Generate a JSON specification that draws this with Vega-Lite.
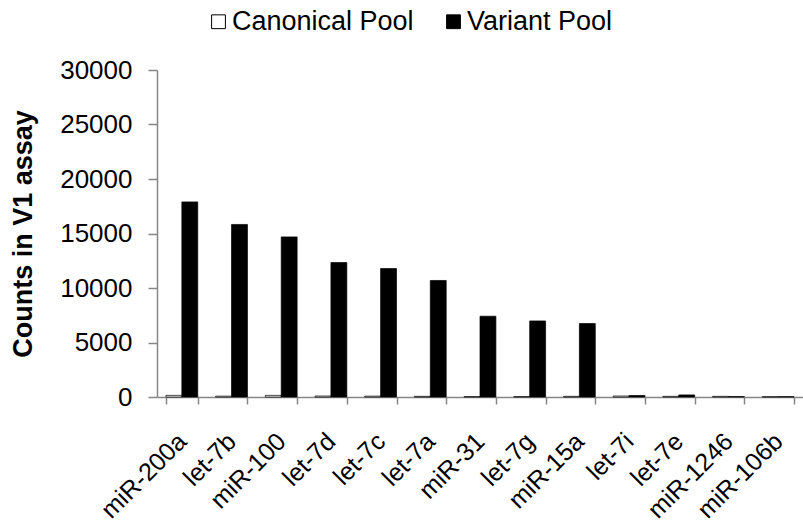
{
  "$schema": "https://vega.github.io/schema/vega-lite/v6.json",
  "autosize": "none",
  "width": 646,
  "height": 327,
  "padding": {"left": 157, "top": 70, "right": 0, "bottom": 129},
  "background": "white",
  "config": {
    "view": {"stroke": null},
    "font": "Liberation Sans"
  },
  "data": {
    "values": [
      {"miRNA": "miR-200a", "pool": "Canonical Pool", "count": 150},
      {"miRNA": "miR-200a", "pool": "Variant Pool", "count": 17900},
      {"miRNA": "let-7b", "pool": "Canonical Pool", "count": 80},
      {"miRNA": "let-7b", "pool": "Variant Pool", "count": 15830},
      {"miRNA": "miR-100", "pool": "Canonical Pool", "count": 150},
      {"miRNA": "miR-100", "pool": "Variant Pool", "count": 14690},
      {"miRNA": "let-7d", "pool": "Canonical Pool", "count": 90},
      {"miRNA": "let-7d", "pool": "Variant Pool", "count": 12340},
      {"miRNA": "let-7c", "pool": "Canonical Pool", "count": 80},
      {"miRNA": "let-7c", "pool": "Variant Pool", "count": 11790},
      {"miRNA": "let-7a", "pool": "Canonical Pool", "count": 60},
      {"miRNA": "let-7a", "pool": "Variant Pool", "count": 10690},
      {"miRNA": "miR-31", "pool": "Canonical Pool", "count": 40},
      {"miRNA": "miR-31", "pool": "Variant Pool", "count": 7410},
      {"miRNA": "let-7g", "pool": "Canonical Pool", "count": 40},
      {"miRNA": "let-7g", "pool": "Variant Pool", "count": 6980},
      {"miRNA": "miR-15a", "pool": "Canonical Pool", "count": 60},
      {"miRNA": "miR-15a", "pool": "Variant Pool", "count": 6740},
      {"miRNA": "let-7i", "pool": "Canonical Pool", "count": 90},
      {"miRNA": "let-7i", "pool": "Variant Pool", "count": 140},
      {"miRNA": "let-7e", "pool": "Canonical Pool", "count": 60},
      {"miRNA": "let-7e", "pool": "Variant Pool", "count": 190},
      {"miRNA": "miR-1246", "pool": "Canonical Pool", "count": 60},
      {"miRNA": "miR-1246", "pool": "Variant Pool", "count": 40},
      {"miRNA": "miR-106b", "pool": "Canonical Pool", "count": 30},
      {"miRNA": "miR-106b", "pool": "Variant Pool", "count": 30}
    ]
  },
  "mark": {"type": "bar", "stroke": "black", "strokeWidth": 0.7},
  "encoding": {
    "x": {
      "field": "miRNA",
      "type": "nominal",
      "sort": null,
      "title": null,
      "scale": {"paddingInner": 0.36, "paddingOuter": 0.18},
      "axis": {
        "labelAngle": 315,
        "labelAlign": "right",
        "labelBaseline": "middle",
        "labelFontSize": 25,
        "labelColor": "black",
        "labelPadding": 33,
        "labelOverlap": false,
        "labelLimit": 300,
        "domainColor": "#868686",
        "domainWidth": 1.5,
        "tickColor": "#868686",
        "tickWidth": 1.5,
        "tickSize": 7,
        "tickBand": "extent"
      }
    },
    "xOffset": {"field": "pool", "type": "nominal", "sort": ["Canonical Pool", "Variant Pool"], "scale": {"paddingInner": 0}},
    "y": {
      "field": "count",
      "type": "quantitative",
      "title": "Counts in V1 assay",
      "scale": {"domain": [0, 30000]},
      "axis": {
        "values": [0, 5000, 10000, 15000, 20000, 25000, 30000],
        "format": "d",
        "grid": false,
        "labelFontSize": 26,
        "labelColor": "black",
        "labelPadding": 16,
        "tickSize": 9,
        "tickColor": "#868686",
        "tickWidth": 1.5,
        "domainColor": "#868686",
        "domainWidth": 1.5,
        "titleFontSize": 27,
        "titleFontWeight": "bold",
        "titleColor": "black",
        "titlePadding": 22,
        "titleLimit": 400
      }
    },
    "color": {
      "field": "pool",
      "type": "nominal",
      "sort": ["Canonical Pool", "Variant Pool"],
      "scale": {"domain": ["Canonical Pool", "Variant Pool"], "range": ["white", "black"]},
      "legend": {
        "title": null,
        "orient": "none",
        "direction": "horizontal",
        "legendX": 48,
        "legendY": -62,
        "symbolType": "square",
        "symbolSize": 190,
        "symbolStrokeColor": "black",
        "symbolStrokeWidth": 1,
        "labelFontSize": 27,
        "labelLimit": 400,
        "labelColor": "black",
        "labelOffset": 0,
        "columnPadding": 26
      }
    }
  }
}
